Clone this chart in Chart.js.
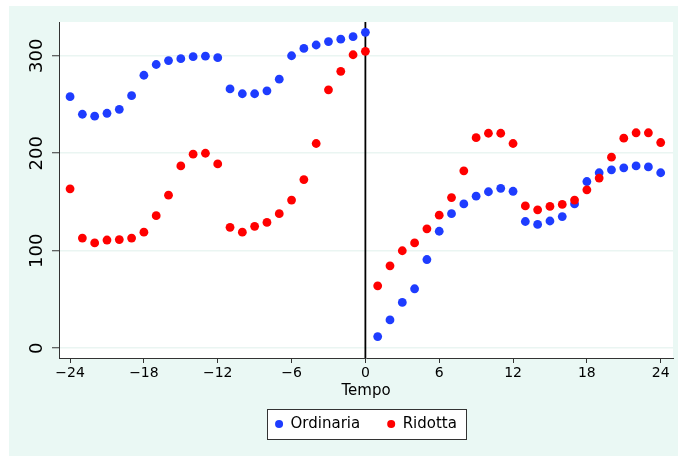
<!DOCTYPE html>
<html><head><meta charset="utf-8">
<script src="https://cdn.jsdelivr.net/npm/chart.js@4/dist/chart.umd.min.js"></script>
<style>html,body{margin:0;padding:0;background:#fff}canvas{display:block}</style>
</head><body>
<canvas id="c" width="678" height="456"></canvas>
<script>
const tempo = [-24,-23,-22,-21,-20,-19,-18,-17,-16,-15,-14,-13,-12,-11,-10,-9,-8,-7,-6,-5,-4,-3,-2,-1,0,
  1,2,3,4,5,6,7,8,9,10,11,12,13,14,15,16,17,18,19,20,21,22,23,24];
const ordinaria = [258,240,238,241,245,259,280,291,295,297,299,299.5,298,266,261,261,264,276,300,307.5,311,314.5,317,319.5,324,
  12,29,47,61,91,120,138,148,156,160.5,164,161,130,127,130.5,135,148,171,180,183,185,187,186,180];
const ridotta = [163.5,113,108,111,111.5,113,119,136,157,187,199,200,189,124,119,125,129,138,152,173,210,265,284,301,304.5,
  64,84.5,100,108,122.5,136.5,154.5,182,216,220.5,220.5,210,146,142,145.5,147.5,152,162.5,174.5,196,215.5,221,221,211];
const xTickValues = [-24,-18,-12,-6,0,6,12,18,24];
const yTickValues = [0,100,200,300];
const seriesNames = ['Ordinaria','Ridotta'];
const xTitle = 'Tempo';

const BLUE = 'rgb(30,60,255)';
const RED = 'rgb(255,0,0)';
const MINT = 'rgb(234,248,244)';
const GRID = 'rgb(234,245,242)';
const AXIS = '#333';
const FONT = 'DejaVu Sans';

const bgPlugin = {
  id: 'bg',
  beforeDraw(chart) {
    const c = chart.ctx, a = chart.chartArea;
    c.save();
    c.fillStyle = '#fff'; c.fillRect(0, 0, chart.width, chart.height);
    c.fillStyle = MINT; c.fillRect(9, 6, chart.width - 9, chart.height - 6);
    c.fillStyle = '#fff'; c.fillRect(a.left, a.top, a.right - a.left, a.bottom - a.top);
    const hb = chart.legend && chart.legend.legendHitBoxes;
    if (hb && hb.length) {
      const f = hb[0], l = hb[hb.length - 1];
      const cy = f.top + f.height / 2;
      const x0 = Math.round(f.left - 8), x1 = Math.round(l.left + l.width + 9);
      const y0 = Math.round(cy - 15), y1 = Math.round(cy + 15);
      c.fillStyle = '#fff'; c.fillRect(x0, y0, x1 - x0, y1 - y0);
      c.strokeStyle = AXIS; c.lineWidth = 1;
      c.strokeRect(x0 + 0.5, y0 + 0.5, x1 - x0, y1 - y0);
    }
    c.restore();
  },
  beforeDatasetsDraw(chart) {
    const c = chart.ctx, a = chart.chartArea, xs = chart.scales.x;
    const px = xs.getPixelForValue(0);
    c.save();
    c.strokeStyle = '#000'; c.lineWidth = 1.8;
    c.beginPath(); c.moveTo(px, a.top); c.lineTo(px, a.bottom); c.stroke();
    c.restore();
  }
};

const fmt = v => v < 0 ? '\u2212' + Math.abs(v) : String(v);

new Chart(document.getElementById('c'), {
  type: 'scatter',
  data: {
    datasets: [
      { label: seriesNames[0], data: tempo.map((t, i) => ({ x: t, y: ordinaria[i] })),
        backgroundColor: BLUE, borderColor: BLUE, borderWidth: 0, pointRadius: 4.4, order: 1 },
      { label: seriesNames[1], data: tempo.map((t, i) => ({ x: t, y: ridotta[i] })),
        backgroundColor: RED, borderColor: RED, borderWidth: 0, pointRadius: 4.4, order: 0 }
    ]
  },
  options: {
    responsive: false, animation: false, devicePixelRatio: 1,
    layout: { padding: { top: 22, right: 5, left: 0, bottom: 14.5 } },
    plugins: {
      legend: {
        position: 'bottom', fullSize: false,
        labels: { usePointStyle: true, pointStyle: 'circle', boxWidth: 8, boxHeight: 5.66,
          padding: 27, color: '#000', font: { family: FONT, size: 15 },
          sort: (a, b) => a.datasetIndex - b.datasetIndex }
      },
      tooltip: { enabled: false }
    },
    scales: {
      x: {
        type: 'linear', position: 'bottom', min: -24.9, max: 25,
        afterBuildTicks: s => { s.ticks = xTickValues.map(v => ({ value: v })); },
        afterFit: s => { s.height = 31.5; },
        grid: { drawOnChartArea: false, drawTicks: true, tickLength: 5, tickColor: AXIS, tickWidth: 1 },
        border: { display: true, color: AXIS, width: 1 },
        ticks: { font: { family: FONT, size: 14 }, color: '#000', padding: 2, maxRotation: 0, minRotation: 0,
          autoSkip: false, callback: v => fmt(v) },
        title: { display: true, text: xTitle, color: '#000', font: { family: FONT, size: 15 },
          padding: { top: 0, bottom: -10.5 } }
      },
      y: {
        type: 'linear', position: 'left', min: -10, max: 334.6,
        afterBuildTicks: s => { s.ticks = yTickValues.map(v => ({ value: v })); },
        afterFit: s => { s.width = 59; },
        grid: { color: GRID, lineWidth: 1.5, drawTicks: true, tickLength: 7, tickColor: AXIS, tickWidth: 1 },
        border: { display: true, color: AXIS, width: 1 },
        ticks: { font: { family: FONT, size: 18 }, color: '#000', minRotation: 90, maxRotation: 90,
          crossAlign: 'center', padding: -2.7, autoSkip: false, callback: v => fmt(v) }
      }
    }
  },
  plugins: [bgPlugin]
});
</script>
</body></html>
